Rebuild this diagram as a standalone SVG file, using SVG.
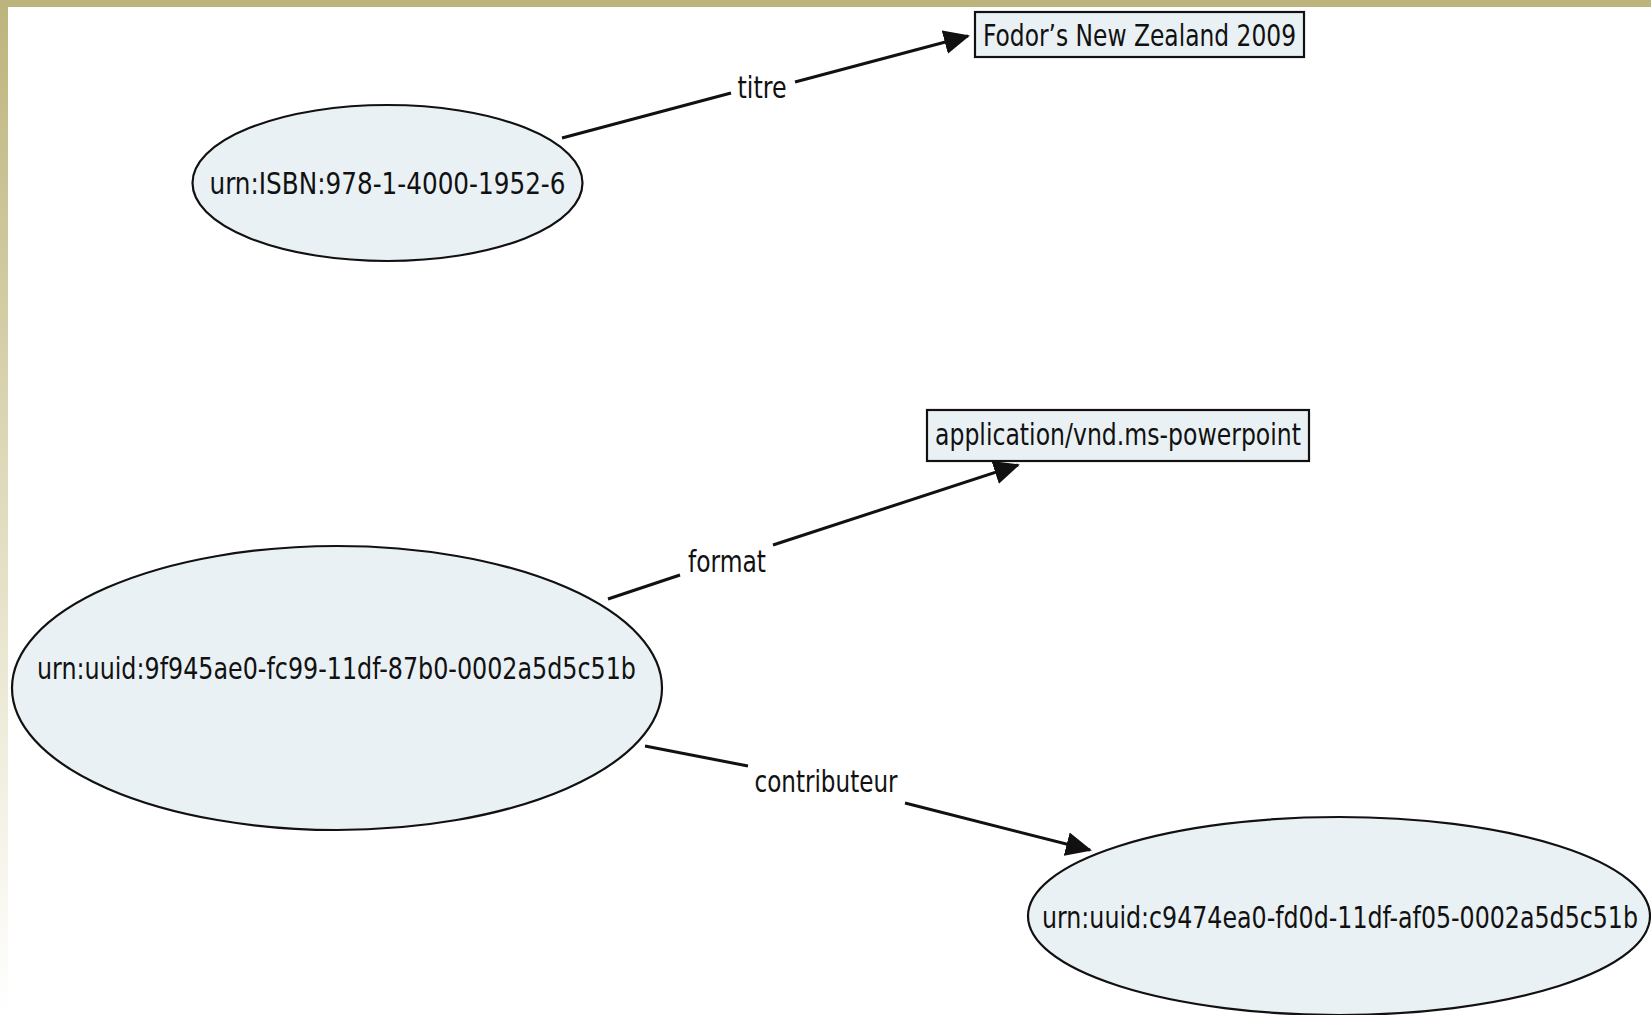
<svg xmlns="http://www.w3.org/2000/svg" width="1651" height="1015" viewBox="0 0 1651 1015">
<style>
.node{fill:#eaf1f5;stroke:#111;stroke-width:2.2}
.lbl{font-family:"DejaVu Sans Condensed","DejaVu Sans","Liberation Sans",sans-serif;font-size:31px;fill:#111;text-anchor:middle}
.edge{stroke:#111;stroke-width:3;fill:none}
</style>
<defs>
<linearGradient id="side" x1="0" y1="0" x2="0" y2="1">
<stop offset="0" stop-color="#bcb47c"/>
<stop offset="0.45" stop-color="#ddd8b8"/>
<stop offset="0.8" stop-color="#f4f2e6"/>
<stop offset="1" stop-color="#ffffff"/>
</linearGradient>
<marker id="ah" markerUnits="userSpaceOnUse" markerWidth="26" markerHeight="26" viewBox="0 0 26 26" refX="24" refY="13" orient="auto">
<path d="M0,1 L26,13 L0,25 z" fill="#111"/>
</marker>
</defs>
<rect x="0" y="0" width="1651" height="1015" fill="#ffffff"/>
<rect x="0" y="0" width="8" height="1015" fill="url(#side)"/>
<rect x="0" y="0" width="1651" height="7" fill="#bcb47c"/>

<g id="connectors">
<g id="e-titre">
<line class="edge" x1="562" y1="138" x2="731" y2="93"/>
<line class="edge" x1="795" y1="82" x2="968" y2="36" marker-end="url(#ah)"/>
<text class="lbl" x="762" y="98" textLength="49" lengthAdjust="spacingAndGlyphs">titre</text>
</g>
<g id="e-format">
<line class="edge" x1="608" y1="599" x2="680" y2="575"/>
<line class="edge" x1="773" y1="545" x2="1018" y2="465" marker-end="url(#ah)"/>
<text class="lbl" x="727" y="572" textLength="78" lengthAdjust="spacingAndGlyphs">format</text>
</g>
<g id="e-contributeur">
<line class="edge" x1="645" y1="746" x2="748" y2="766"/>
<line class="edge" x1="905" y1="803" x2="1090" y2="850" marker-end="url(#ah)"/>
<text class="lbl" x="826" y="792" textLength="143" lengthAdjust="spacingAndGlyphs">contributeur</text>
</g>
</g>

<g id="isbn">
<ellipse class="node" cx="387.5" cy="183" rx="195" ry="78"/>
<text class="lbl" x="387.5" y="194" textLength="356" lengthAdjust="spacingAndGlyphs">urn:ISBN:978-1-4000-1952-6</text>
</g>
<g id="fodors">
<rect class="node" x="975" y="12" width="329" height="45"/>
<text class="lbl" x="1139.5" y="46" textLength="313" lengthAdjust="spacingAndGlyphs">Fodor’s New Zealand 2009</text>
</g>
<g id="ppt">
<rect class="node" x="927" y="410" width="382" height="51"/>
<text class="lbl" x="1118" y="445" textLength="366" lengthAdjust="spacingAndGlyphs">application/vnd.ms-powerpoint</text>
</g>
<g id="uuid1">
<ellipse class="node" cx="337" cy="688" rx="325" ry="142"/>
<text class="lbl" x="336.5" y="679" textLength="599" lengthAdjust="spacingAndGlyphs">urn:uuid:9f945ae0-fc99-11df-87b0-0002a5d5c51b</text>
</g>
<g id="uuid2">
<ellipse class="node" cx="1339" cy="916" rx="311" ry="99"/>
<text class="lbl" x="1340" y="928" textLength="596" lengthAdjust="spacingAndGlyphs">urn:uuid:c9474ea0-fd0d-11df-af05-0002a5d5c51b</text>
</g>
</svg>
